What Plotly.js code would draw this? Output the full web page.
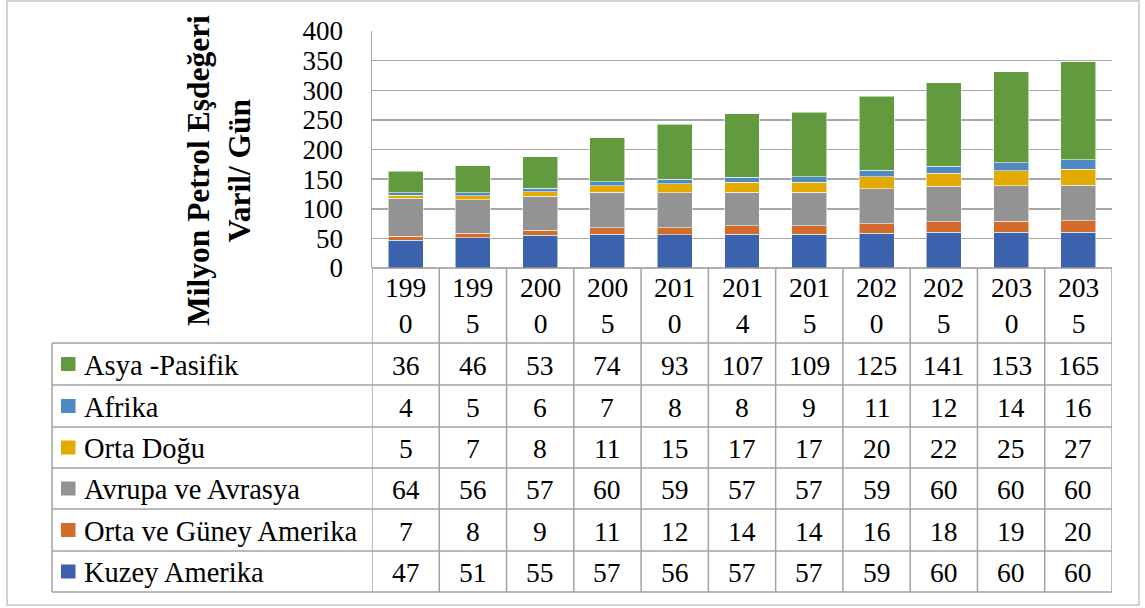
<!DOCTYPE html>
<html><head><meta charset="utf-8">
<script src="https://cdn.plot.ly/plotly-3.0.1.min.js"></script>
<style>body{margin:0;background:#fff}#c{width:1145px;height:608px}</style>
</head><body><div id="c"></div>
<script>
// ---- data ----
const years = ['1990','1995','2000','2005','2010','2014','2015','2020','2025','2030','2035'];
const kuzeyAmerika     = [47,51,55,57,56,57,57,59,60,60,60];
const ortaGuneyAmerika = [7,8,9,11,12,14,14,16,18,19,20];
const avrupaAvrasya    = [64,56,57,60,59,57,57,59,60,60,60];
const ortaDogu         = [5,7,8,11,15,17,17,20,22,25,27];
const afrika           = [4,5,6,7,8,8,9,11,12,14,16];
const asyaPasifik      = [36,46,53,74,93,107,109,125,141,153,165];
const seriesNames = ['Kuzey Amerika','Orta ve Güney Amerika','Avrupa ve Avrasya','Orta Doğu','Afrika','Asya -Pasifik'];
const yTicks = [0,50,100,150,200,250,300,350,400];
const yTitle = 'Milyon Petrol Eşdeğeri<br>Varil/ Gün';

// ---- styling ----
const seriesValues = [kuzeyAmerika, ortaGuneyAmerika, avrupaAvrasya, ortaDogu, afrika, asyaPasifik];
const colors = ['#3B63AD','#D36C2B','#939393','#E3AA00','#4E89C1','#629A3E'];
const W = 1145, H = 608;
const px = x => x / W, py = y => 1 - y / H;
const FONT = '"Liberation Serif", "Times New Roman", serif';
const lineCol = '#A3A3A3';
const plotL = 372, plotR = 1112, plotT = 31, plotB = 268;
const rowEdges = [343, 385, 427, 468, 509, 551, 592];

const traces = seriesValues.map((vals, i) => ({
  type: 'bar', x: years, y: vals, name: seriesNames[i],
  marker: {color: colors[i], line: {color: 'rgba(255,255,255,0.55)', width: 1}},
  hoverinfo: 'skip'
}));

const shapes = [];
const annotations = [];
// outer frame
shapes.push({type:'rect', xref:'paper', yref:'paper', x0:px(7), x1:px(1139), y0:py(605), y1:py(1), line:{color:'#C4C4C4', width:1.5}});
// axis bottom line
shapes.push({type:'line', xref:'paper', yref:'paper', x0:px(plotL), x1:px(plotR), y0:py(plotB), y1:py(plotB), line:{color:'#969696', width:1.5}});
// vertical table lines
for (let j = 0; j <= years.length; j++) {
  shapes.push({type:'line', xref:'x', yref:'paper', x0:j-0.5, x1:j-0.5, y0:py(plotB), y1:py(rowEdges[rowEdges.length-1]), line:{color:lineCol, width:1.5}});
}
// left column line
shapes.push({type:'line', xref:'paper', yref:'paper', x0:px(52), x1:px(52), y0:py(rowEdges[0]), y1:py(rowEdges[rowEdges.length-1]), line:{color:lineCol, width:1.5}});
// horizontal row lines
rowEdges.forEach(y => shapes.push({type:'line', xref:'paper', yref:'paper', x0:px(52), x1:px(plotR), y0:py(y), y1:py(y), line:{color:lineCol, width:1.5}}));

// category labels (x = category index on the category axis)
years.forEach((yr, j) => annotations.push({
  xref:'x', yref:'paper', x: j, y: py(305.5), text: yr.slice(0,3) + '<br>' + yr.slice(3),
  showarrow:false, xanchor:'center', yanchor:'middle', font:{family:FONT, size:27.5, color:'#000'}
}));

// table rows (top to bottom: reverse stacking order)
for (let r = 0; r < seriesValues.length; r++) {
  const si = seriesValues.length - 1 - r;
  const cy = (rowEdges[r] + rowEdges[r+1]) / 2;
  shapes.push({type:'rect', xref:'paper', yref:'paper', x0:px(61), x1:px(75.5), y0:py(cy+7), y1:py(cy-7), fillcolor:colors[si], line:{width:0}});
  annotations.push({xref:'paper', yref:'paper', x:px(82), y:py(cy+1), text:seriesNames[si], showarrow:false, xanchor:'left', yanchor:'middle', font:{family:FONT, size:28.5, color:'#000'}});
  seriesValues[si].forEach((v, j) => annotations.push({
    xref:'x', yref:'paper', x: j, y: py(cy+1), text: String(v), showarrow:false,
    xanchor:'center', yanchor:'middle', font:{family:FONT, size:27.5, color:'#000'}
  }));
}

// y-axis title
annotations.push({xref:'paper', yref:'paper', x:px(219), y:py(171), text:'<b>' + yTitle + '</b>', textangle:-90,
  showarrow:false, xanchor:'center', yanchor:'middle', font:{family:FONT, size:31.5, color:'#000'}});

const layout = {
  width: W, height: H, margin:{l:0, r:0, t:0, b:0},
  paper_bgcolor:'#fff', plot_bgcolor:'#fff',
  barmode:'stack', bargap:0.48, showlegend:false,
  xaxis:{type:'category', range:[-0.5, years.length-0.5], domain:[px(plotL), px(plotR)],
    showticklabels:false, showgrid:false, zeroline:false, showline:false, ticks:''},
  yaxis:{range:[0,400], domain:[py(plotB), py(plotT)], tickvals:yTicks, ticks:'',
    tickfont:{family:FONT, size:27, color:'#000'}, ticklabelstandoff:22,
    showgrid:true, gridcolor:'#A6A6A6', gridwidth:1.5, zeroline:false,
    showline:true, linecolor:'#A6A6A6', linewidth:1.5},
  shapes, annotations
};
Plotly.newPlot('c', traces, layout, {staticPlot:true, displayModeBar:false});
</script></body></html>
